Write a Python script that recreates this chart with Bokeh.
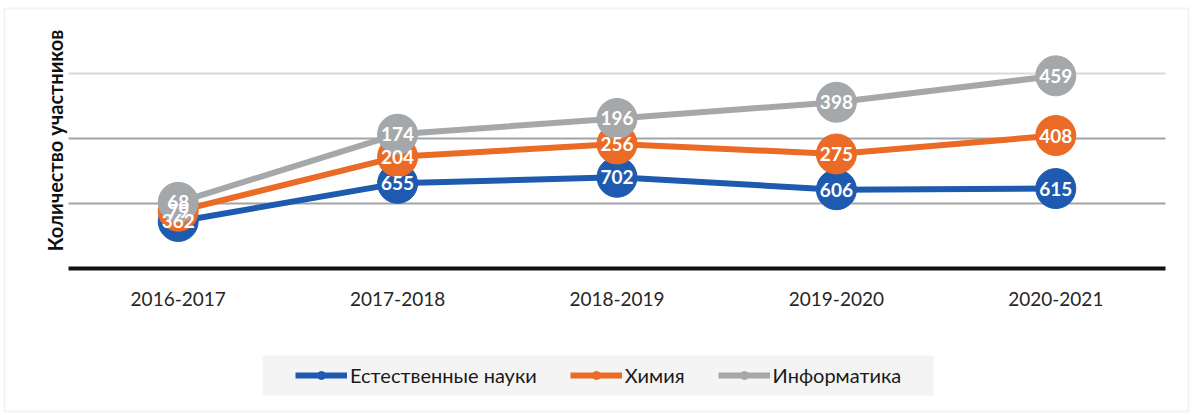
import numpy as np
from bokeh.plotting import figure
from bokeh.models import (Range1d, Legend, LegendItem, Label, BoxAnnotation, ColumnDataSource)
from bokeh.core.properties import value
from bokeh.embed import file_html
from bokeh.resources import INLINE

years = ["2016-2017", "2017-2018", "2018-2019", "2019-2020", "2020-2021"]
natural = [362, 655, 702, 606, 615]
chemistry = [79, 204, 256, 275, 408]
informatics = [68, 174, 196, 398, 459]
series_names = ["Естественные науки", "Химия", "Информатика"]
colors = ["#1e5bb0", "#ea6a26", "#a5a8ab"]
grid_major = [500, 1000]
grid_light = [1500]
y_title = "Количество участников"

FONT = "Lato"

stack = np.cumsum(np.array([natural, chemistry, informatics]), axis=0)
raw = [natural, chemistry, informatics]
xi = np.arange(len(years))

# pixel layout: category band 219.4 px, plot area x 68..1165, zero line at y=268, 0.13 px per unit
band = 219.4
ppu = 0.13
p = figure(width=1200, height=415,
           x_range=Range1d(-68 / band - 0.5, (1200 - 68) / band - 0.5),
           y_range=Range1d(-(415 - 268) / ppu, 268 / ppu),
           output_backend="svg", toolbar_location=None,
           min_border_left=0, min_border_right=0, min_border_top=0, min_border_bottom=0)
p.outline_line_color = None
p.background_fill_color = "white"
p.border_fill_color = "white"
p.xaxis.visible = False
p.yaxis.visible = False
p.xgrid.visible = False
p.ygrid.visible = False

# outer frame
p.add_layout(BoxAnnotation(left=4, right=1188, bottom=4, top=407,
                           left_units="screen", right_units="screen",
                           top_units="screen", bottom_units="screen",
                           fill_alpha=0, line_color="#d6d6d6", line_width=2))

x0 = xi[0] - 0.5
x1 = xi[-1] + 0.5
p.segment(x0=[x0] * len(grid_major), x1=[x1] * len(grid_major), y0=grid_major, y1=grid_major,
          line_color="#a3a3a3", line_width=2)
p.segment(x0=[x0] * len(grid_light), x1=[x1] * len(grid_light), y0=grid_light, y1=grid_light,
          line_color="#d9d9d9", line_width=2)
# category axis
p.segment(x0=[x0], x1=[x1], y0=[0], y1=[0], line_color="#111111", line_width=4)
p.text(x=xi, y=np.zeros(len(years)), text=years, text_align="center", text_baseline="middle",
       y_offset=30, text_color="#262626", text_font=value(FONT), text_font_size="19px")

p.add_layout(Label(x=54, y=415 - 140, x_units="screen", y_units="screen", text=y_title,
                   angle=90, angle_units="deg", text_align="center", text_baseline="middle",
                   text_font=FONT, text_font_size="20px", text_font_style="bold",
                   text_color="#111111"))

items = []
for i in range(3):
    src = ColumnDataSource(dict(x=xi, y=stack[i]))
    small = p.scatter("x", "y", source=src, size=13, fill_color=colors[i], line_color=colors[i])
    ln = p.line("x", "y", source=src, line_color=colors[i], line_width=6)
    p.scatter("x", "y", source=src, size=40, fill_color=colors[i], line_color=colors[i])
    items.append(LegendItem(label=series_names[i], renderers=[ln, small]))

for i in range(3):
    src = ColumnDataSource(dict(x=xi, y=stack[i], t=[str(v) for v in raw[i]]))
    p.text("x", "y", text="t", source=src, text_align="center", text_baseline="middle",
           text_color="white", text_font=value(FONT), text_font_size="19px",
           text_font_style="bold")

# legend background band
p.add_layout(BoxAnnotation(left=262, right=933, bottom=415 - 395, top=415 - 355,
                           left_units="screen", right_units="screen",
                           top_units="screen", bottom_units="screen",
                           fill_color="#f4f4f4", fill_alpha=1, line_color=None))

legend = Legend(items=items, orientation="horizontal", location=(295, 28),
                background_fill_alpha=0, border_line_color=None,
                glyph_width=52, glyph_height=20, label_standoff=3, spacing=33, padding=10,
                margin=0, label_text_font=FONT, label_text_font_size="20px",
                label_text_color="#1a1a1a")
p.add_layout(legend, "center")

open("out.html", "w").write(file_html(p, INLINE))
